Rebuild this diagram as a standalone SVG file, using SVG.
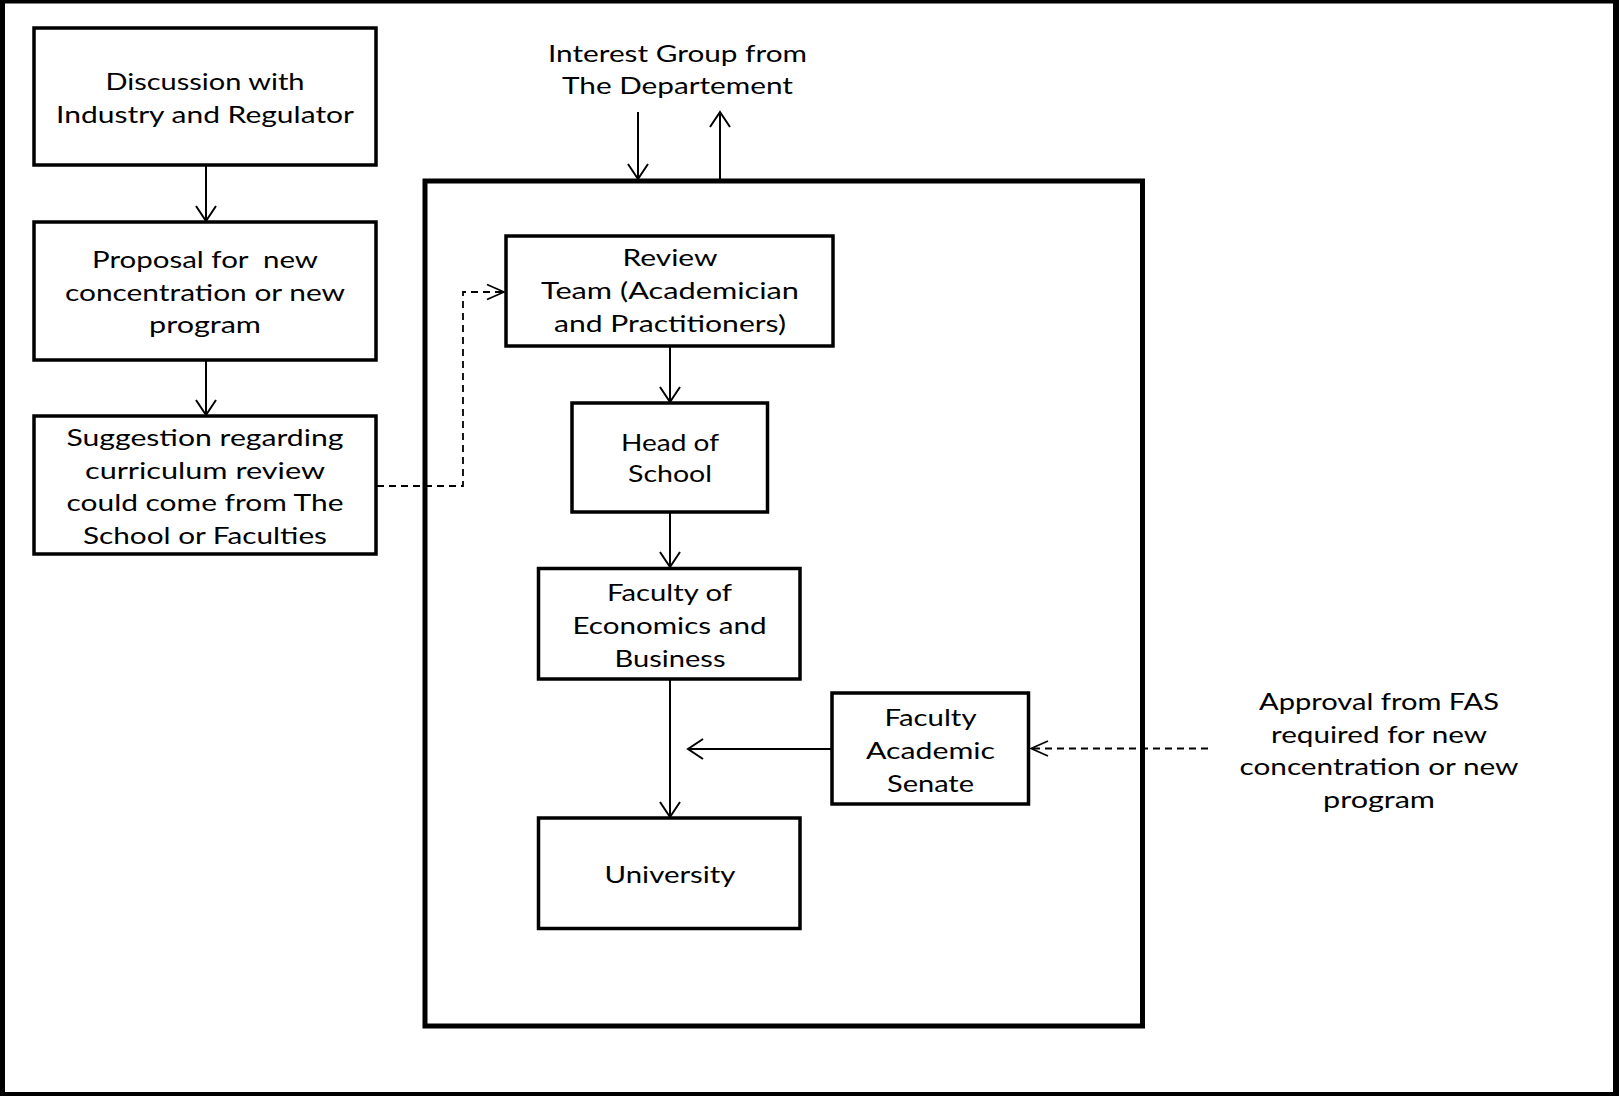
<svg xmlns="http://www.w3.org/2000/svg" width="1619" height="1096" viewBox="0 0 1619 1096">
  <defs>
    <style>
      .box { fill: #fff; stroke: #000; stroke-width: 3.5; }
      .frame { fill: none; stroke: #000; stroke-width: 5; }
      .lbl { font-family: Lato, "Open Sans", "Liberation Sans", sans-serif; font-size: 23px; fill: #000; text-anchor: middle; }
      .link { fill: none; stroke: #000; stroke-width: 2; }
      .dash { fill: none; stroke: #000; stroke-width: 1.8; stroke-dasharray: 7 5; }
    </style>
    <marker id="arrow" viewBox="-17 -12 19 24" refX="0" refY="0" markerWidth="19" markerHeight="24" markerUnits="userSpaceOnUse" orient="auto">
      <path d="M-15,-10 L0,0 L-15,10" fill="none" stroke="#000" stroke-width="2" stroke-dasharray="none"/>
    </marker>
    <marker id="arrowDash" viewBox="-19 -9 21 18" refX="0" refY="0" markerWidth="21" markerHeight="18" markerUnits="userSpaceOnUse" orient="auto">
      <path d="M-17,-7.5 L0,0 L-17,7.5" fill="none" stroke="#000" stroke-width="1.8" stroke-dasharray="none"/>
    </marker>
  </defs>

  <!-- page background and outer border -->
  <rect x="0" y="0" width="1619" height="1096" fill="#fff"/>
  <path d="M0,0 H1619 V1096 H0 Z M5,3.5 V1092 H1613 V3.5 Z" fill="#000" fill-rule="evenodd"/>

  <!-- enclosing process frame -->
  <rect id="process-frame" class="frame" x="425" y="181" width="717.5" height="845"/>

  <!-- connectors -->
  <g id="connectors">
    <line class="link" x1="206" y1="166" x2="206" y2="221" marker-end="url(#arrow)"/>
    <line class="link" x1="206" y1="361" x2="206" y2="415" marker-end="url(#arrow)"/>
    <line class="link" x1="638" y1="112" x2="638" y2="179" marker-end="url(#arrow)"/>
    <line class="link" x1="720" y1="179" x2="720" y2="112" marker-end="url(#arrow)"/>
    <line class="link" x1="670" y1="347" x2="670" y2="402" marker-end="url(#arrow)"/>
    <line class="link" x1="670" y1="513" x2="670" y2="567" marker-end="url(#arrow)"/>
    <line class="link" x1="670" y1="680" x2="670" y2="817" marker-end="url(#arrow)"/>
    <line class="link" x1="831" y1="749" x2="688" y2="749" marker-end="url(#arrow)"/>
    <path class="dash" d="M377,486 H463 V292 H504" marker-end="url(#arrowDash)"/>
    <line class="dash" x1="1208" y1="748.5" x2="1031" y2="748.5" marker-end="url(#arrowDash)"/>
  </g>

  <!-- left column -->
  <g id="discussion">
    <rect class="box" x="34" y="28" width="342" height="137"/>
    <text class="lbl" x="205" y="90" textLength="199" lengthAdjust="spacingAndGlyphs">Discussion with</text>
    <text class="lbl" x="205" y="123" textLength="298" lengthAdjust="spacingAndGlyphs">Industry and Regulator</text>
  </g>

  <g id="proposal">
    <rect class="box" x="34" y="222" width="342" height="138"/>
    <text class="lbl" x="205" y="268" textLength="226" lengthAdjust="spacingAndGlyphs" xml:space="preserve">Proposal for  new</text>
    <text class="lbl" x="205" y="300.5" textLength="280" lengthAdjust="spacingAndGlyphs">concentration or new</text>
    <text class="lbl" x="205" y="333" textLength="112" lengthAdjust="spacingAndGlyphs">program</text>
  </g>

  <g id="suggestion">
    <rect class="box" x="34" y="416" width="342" height="138"/>
    <text class="lbl" x="205" y="446" textLength="277" lengthAdjust="spacingAndGlyphs">Suggestion regarding</text>
    <text class="lbl" x="205" y="478.7" textLength="240" lengthAdjust="spacingAndGlyphs">curriculum review</text>
    <text class="lbl" x="205" y="511.3" textLength="277" lengthAdjust="spacingAndGlyphs">could come from The</text>
    <text class="lbl" x="205" y="544" textLength="244" lengthAdjust="spacingAndGlyphs">School or Faculties</text>
  </g>

  <!-- external interest group -->
  <g id="interest-group">
    <text class="lbl" x="677.5" y="62" textLength="259" lengthAdjust="spacingAndGlyphs">Interest Group from</text>
    <text class="lbl" x="677.5" y="94" textLength="231" lengthAdjust="spacingAndGlyphs">The Departement</text>
  </g>

  <!-- approval chain -->
  <g id="review-team">
    <rect class="box" x="506" y="236" width="327" height="110"/>
    <text class="lbl" x="670" y="266" textLength="95" lengthAdjust="spacingAndGlyphs">Review</text>
    <text class="lbl" x="670" y="299" textLength="258" lengthAdjust="spacingAndGlyphs">Team (Academician</text>
    <text class="lbl" x="670" y="332" textLength="232" lengthAdjust="spacingAndGlyphs">and Practitioners)</text>
  </g>

  <g id="head-of-school">
    <rect class="box" x="572" y="403" width="195.5" height="109"/>
    <text class="lbl" x="670" y="451" textLength="98" lengthAdjust="spacingAndGlyphs">Head of</text>
    <text class="lbl" x="670" y="482" textLength="84" lengthAdjust="spacingAndGlyphs">School</text>
  </g>

  <g id="faculty-econ">
    <rect class="box" x="538.5" y="568.5" width="261.5" height="110.5"/>
    <text class="lbl" x="669.5" y="601" textLength="125" lengthAdjust="spacingAndGlyphs">Faculty of</text>
    <text class="lbl" x="669.5" y="634" textLength="194" lengthAdjust="spacingAndGlyphs">Economics and</text>
    <text class="lbl" x="670" y="667" textLength="111" lengthAdjust="spacingAndGlyphs">Business</text>
  </g>

  <g id="university">
    <rect class="box" x="538.5" y="818" width="261.5" height="110.5"/>
    <text class="lbl" x="670" y="883" textLength="131" lengthAdjust="spacingAndGlyphs">University</text>
  </g>

  <g id="faculty-senate">
    <rect class="box" x="832" y="693" width="196.5" height="111"/>
    <text class="lbl" x="930.5" y="725.7" textLength="92" lengthAdjust="spacingAndGlyphs">Faculty</text>
    <text class="lbl" x="930.5" y="758.5" textLength="129" lengthAdjust="spacingAndGlyphs">Academic</text>
    <text class="lbl" x="930.5" y="791.5" textLength="87" lengthAdjust="spacingAndGlyphs">Senate</text>
  </g>

  <!-- note on senate approval -->
  <g id="approval-note">
    <text class="lbl" x="1379" y="710" textLength="240" lengthAdjust="spacingAndGlyphs">Approval from FAS</text>
    <text class="lbl" x="1379" y="742.5" textLength="216" lengthAdjust="spacingAndGlyphs">required for new</text>
    <text class="lbl" x="1379" y="775" textLength="279" lengthAdjust="spacingAndGlyphs">concentration or new</text>
    <text class="lbl" x="1379" y="807.5" textLength="112" lengthAdjust="spacingAndGlyphs">program</text>
  </g>
</svg>
